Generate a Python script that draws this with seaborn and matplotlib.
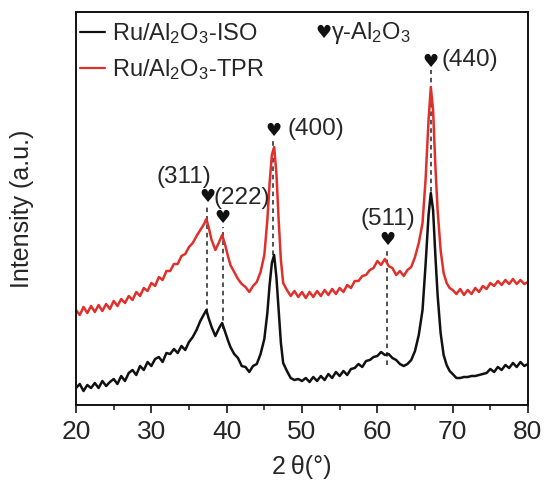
import matplotlib
matplotlib.use("Agg")
import matplotlib.pyplot as plt
import seaborn as sns
import pandas as pd
from matplotlib.ticker import MultipleLocator

# ---- data (intensity in arbitrary units) ----
two_theta = [20, 20.5, 21, 21.5, 22, 22.5, 23, 23.5, 24, 24.5, 25, 25.5, 26, 26.5, 27, 27.5,
             28, 28.5, 29, 29.5, 30, 30.5, 31, 31.5, 32, 32.5, 33, 33.5, 34, 34.5, 35, 35.5,
             36, 36.5, 37, 37.3, 37.6, 38, 38.5, 39, 39.4, 39.8, 40.2, 40.5, 41, 41.5, 42,
             42.5, 43, 43.5, 44, 44.5, 45, 45.4, 45.7, 46.0, 46.3, 46.6, 46.9, 47.2, 47.5,
             48, 48.5, 49, 49.5, 50, 50.5, 51, 51.5, 52, 52.5, 53, 53.5, 54, 54.5, 55, 55.5,
             56, 56.5, 57, 57.5, 58, 58.5, 59, 59.5, 60, 60.5, 61, 61.5, 62, 62.5, 63, 63.5,
             64, 64.5, 65, 65.5, 66, 66.4, 66.8, 67.1, 67.4, 67.7, 68, 68.4, 68.8, 69.2, 69.6,
             70, 70.5, 71, 71.5, 72, 72.5, 73, 73.5, 74, 74.5, 75, 75.5, 76, 76.5, 77, 77.5,
             78, 78.5, 79, 79.5, 80]

iso = [17, 21, 14, 20, 17, 22, 17, 24, 19, 23, 26, 21, 29, 24, 32, 35,
       30, 39, 35, 43, 39, 46, 48, 43, 52, 51, 56, 52, 59, 55, 63, 68,
       75, 84, 91, 95, 87, 78, 69, 77, 82, 73, 64, 58, 51, 47, 39,
       38, 33, 39, 41, 51, 66, 92, 120, 142, 150, 128, 95, 62, 42,
       34, 27, 25, 26, 24, 27, 23, 28, 24, 29, 25, 31, 27, 33, 29, 34,
       30, 36, 37, 41, 38, 44, 45, 48, 49, 53, 50, 51, 47, 45, 41, 39,
       41, 45, 54, 70, 95, 140, 190, 212, 195, 150, 110, 72, 50, 40, 34,
       31, 27, 27, 28, 28, 29, 29, 30, 31, 32, 36, 33, 38, 35, 40, 37,
       42, 38, 43, 39, 41]

tpr = [95, 90, 98, 92, 99, 93, 100, 94, 101, 96, 104, 99, 106, 102, 109, 105,
       113, 109, 117, 114, 122, 119, 128, 125, 134, 134, 141, 141, 149, 151, 158, 162,
       169, 175, 181, 186, 178, 165, 155, 163, 170, 160, 148, 140, 133, 126, 121,
       118, 113, 119, 123, 133, 150, 185, 222, 250, 258, 232, 185, 145, 122,
       115, 109, 114, 108, 113, 107, 113, 108, 114, 109, 115, 110, 116, 111, 117, 113,
       120, 117, 124, 124, 129, 130, 135, 137, 144, 140, 146, 139, 137, 130, 134, 129,
       135, 138, 148, 162, 182, 225, 285, 318, 295, 240, 195, 155, 132, 122, 117,
       115, 111, 116, 110, 115, 111, 117, 113, 119, 116, 122, 119, 124, 120, 125, 121,
       126, 121, 125, 121, 123]

series_names = ["Ru/Al$_2$O$_3$-ISO", "Ru/Al$_2$O$_3$-TPR"]
series_colors = ["#111111", "#e0302c"]

# reflections of gamma-Al2O3
peak_labels = ["(311)", "(222)", "(400)", "(511)", "(440)"]
peak_pos = [37.4, 39.5, 46.2, 61.3, 67.1]
dash_low = [92, 76, 150, 40, 205]
dash_high = [198, 178, 265, 157, 335]
heart_y = [208, 187, 274, 165, 343]
label_x = [34.3, 42.0, 51.9, 61.4, 72.3]
label_y = [228, 207, 276, 186, 345]

# ---- figure ----
sns.set_style("ticks")
plt.rcParams["font.family"] = ["Liberation Sans", "DejaVu Sans"]
plt.rcParams["mathtext.fontset"] = "custom"
plt.rcParams["mathtext.rm"] = "Liberation Sans"
plt.rcParams["mathtext.it"] = "Liberation Sans"

df = pd.concat([
    pd.DataFrame({"x": two_theta, "y": iso, "s": series_names[0]}),
    pd.DataFrame({"x": two_theta, "y": tpr, "s": series_names[1]}),
])

fig = plt.figure(figsize=(5.49, 4.91), dpi=100)
ax = fig.add_axes([76 / 549, 1 - 405 / 491, 452 / 549, 393 / 491])

sns.lineplot(data=df, x="x", y="y", hue="s", palette=series_colors,
             hue_order=series_names, sort=False, estimator=None, lw=1.8, ax=ax)

for p, lo, hi in zip(peak_pos, dash_low, dash_high):
    ax.plot([p, p], [lo, hi], ls=(0, (3, 2.5)), color="#222222", lw=1.1, zorder=1)
for p, hy in zip(peak_pos, heart_y):
    ax.text(p, hy, "\u2665", ha="center", va="center", fontsize=13,
            family=["DejaVu Sans"], color="#111111")
for lx, ly, lab in zip(label_x, label_y, peak_labels):
    ax.text(lx, ly, lab, ha="center", va="center", fontsize=17.5)

ax.text(52.9, 372, "\u2665", ha="center", va="center", fontsize=13,
        family=["DejaVu Sans"], color="#111111")
ax.text(53.9, 372, "\u03b3-Al$_2$O$_3$", ha="left", va="center", fontsize=17)

ax.set_xlim(20, 80)
ax.set_ylim(0, 393)
ax.xaxis.set_major_locator(MultipleLocator(10))
ax.xaxis.set_minor_locator(MultipleLocator(5))
ax.tick_params(axis="x", which="major", direction="out", length=6, width=1.3,
               labelsize=19, pad=5)
ax.tick_params(axis="x", which="minor", direction="out", length=3.5, width=1.2)
ax.set_yticks([])
for sp in ax.spines.values():
    sp.set_visible(True)
    sp.set_linewidth(1.4)
    sp.set_color("#111111")

ax.set_xlabel("2\u2009\u03b8(\u00b0)", fontsize=18, labelpad=8)
ax.set_ylabel("Intensity (a.u.)", fontsize=18, labelpad=30)

leg = ax.legend(loc="upper left", bbox_to_anchor=(-0.028, 1.018), frameon=False,
                fontsize=17, handlelength=1.05, handletextpad=0.3, labelspacing=0.45,
                borderaxespad=0.3)
for line in leg.get_lines():
    line.set_linewidth(1.6)

fig.savefig("out.png", dpi=100)
